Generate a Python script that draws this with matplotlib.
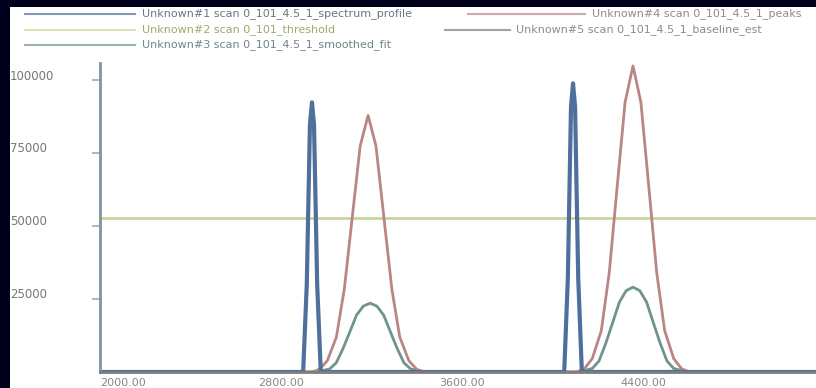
import matplotlib
matplotlib.use("Agg")
import matplotlib.pyplot as plt
from matplotlib.patches import Rectangle
from matplotlib.lines import Line2D
from matplotlib.transforms import blended_transform_factory

# spectrum traces (x in m/z, y in counts)
spike_x = [2000, 2898, 2914, 2928, 2937, 2946, 2960, 2976,
           4052, 4068, 4082, 4091, 4100, 4114, 4130, 5165]
spike_y = [0, 0, 30000, 85000, 92500, 85000, 30000, 0,
           0, 32000, 91000, 99000, 91000, 32000, 0, 0]

peak_x = [2000, 2935, 2970, 3005, 3045, 3080, 3115, 3150, 3185, 3220, 3255, 3290, 3325, 3365, 3400, 3435,
          4106, 4141, 4176, 4216, 4251, 4286, 4321, 4356, 4391, 4426, 4461, 4496, 4536, 4571, 4606, 5165]
peak_y = [0, 0, 900, 3900, 12000, 28500, 53000, 77500, 88000, 77500, 53000, 28500, 12000, 3900, 900, 0,
          0, 1100, 4600, 14200, 34000, 63500, 92500, 105000, 92500, 63500, 34000, 14200, 4600, 1100, 0, 0]

smooth_x = [2000, 2954, 3014, 3044, 3074, 3104, 3134, 3164, 3194, 3224, 3254, 3284, 3314, 3344, 3374, 3434,
            4116, 4176, 4206, 4236, 4266, 4296, 4326, 4356, 4386, 4416, 4446, 4476, 4506, 4536, 4596, 5165]
smooth_y = [0, 0, 1000, 3100, 8000, 13700, 19500, 22600, 23600, 22600, 19500, 13700, 8000, 3100, 1000, 0,
            0, 1200, 3800, 9900, 16900, 24000, 27900, 29100, 27900, 24000, 16900, 9900, 3800, 1200, 0, 0]

threshold_x = [2000, 5165]
threshold_y = [52700, 52700]

baseline_x = [2000, 5165]
baseline_y = [0, 0]

x_ticks = [2000, 2800, 3600, 4400]
y_ticks = [25000, 50000, 75000, 100000]

labels = ["Unknown#1 scan 0_101_4.5_1_spectrum_profile",
          "Unknown#2 scan 0_101_threshold",
          "Unknown#3 scan 0_101_4.5_1_smoothed_fit",
          "Unknown#4 scan 0_101_4.5_1_peaks",
          "Unknown#5 scan 0_101_4.5_1_baseline_est"]

c_blue = "#4f6f9c"
c_lime = "#c9d59c"
c_teal = "#6f9490"
c_red = "#b98585"
c_gray = "#7c7c7c"

fig = plt.figure(figsize=(8.16, 3.88), dpi=100, facecolor="#00001c")
fig.add_artist(Rectangle((10 / 816, 0), 1, 381 / 388, transform=fig.transFigure,
                         facecolor="white", edgecolor="none", zorder=-1))

ax = fig.add_axes([100 / 816, 16 / 388, 716 / 816, 309 / 388])
ax.set_facecolor("none")

ax.plot(threshold_x, threshold_y, color=c_lime, lw=2)
ax.plot(baseline_x, baseline_y, color=c_gray, lw=2.5)
ax.plot(smooth_x, smooth_y, color=c_teal, lw=2)
ax.plot(peak_x, peak_y, color=c_red, lw=2)
ax.plot(spike_x, spike_y, color=c_blue, lw=3)

ax.set_xlim(2000, 5165)
ax.set_ylim(0, 106000)

for s in ["top", "right"]:
    ax.spines[s].set_visible(False)
ax.spines["left"].set_color("#8592a0")
ax.spines["left"].set_linewidth(2)
ax.spines["bottom"].set_color(c_gray)
ax.spines["bottom"].set_linewidth(2)

ax.set_xticks(x_ticks)
ax.set_xticklabels([f"{v:.2f}" for v in x_ticks], fontsize=8, color="#888888")
ax.get_xticklabels()[0].set_ha("left")
ax.tick_params(axis="x", length=0, pad=4)

ax.set_yticks(y_ticks)
ax.set_yticklabels([])
ax.tick_params(axis="y", length=6, width=1.2, color="#a0a8b0")
tr = blended_transform_factory(fig.transFigure, ax.transData)
for v in y_ticks:
    ax.text(10 / 816, v + 1500, str(v), transform=tr, ha="left", va="center",
            fontsize=8.5, color="#777777")

# legend drawn by hand, flowing like the original
leg = [(25, 135, 142, 14, c_blue, "#6d7480", labels[0]),
       (25, 135, 142, 30, c_lime, "#9aab6a", labels[1]),
       (25, 135, 142, 45, c_teal, "#6f8686", labels[2]),
       (468, 585, 592, 14, c_red, "#9d8580", labels[3]),
       (445, 510, 516, 30, c_gray, "#8c8c84", labels[4])]
for x0, x1, xt, y, lc, tc, lab in leg:
    fig.add_artist(Line2D([x0 / 816, x1 / 816], [1 - y / 388, 1 - y / 388],
                          transform=fig.transFigure, color=lc, lw=1.5, alpha=0.7))
    fig.text(xt / 816, 1 - y / 388, lab, ha="left", va="center", fontsize=8, color=tc)

fig.savefig("out.png", dpi=100, facecolor=fig.get_facecolor())
